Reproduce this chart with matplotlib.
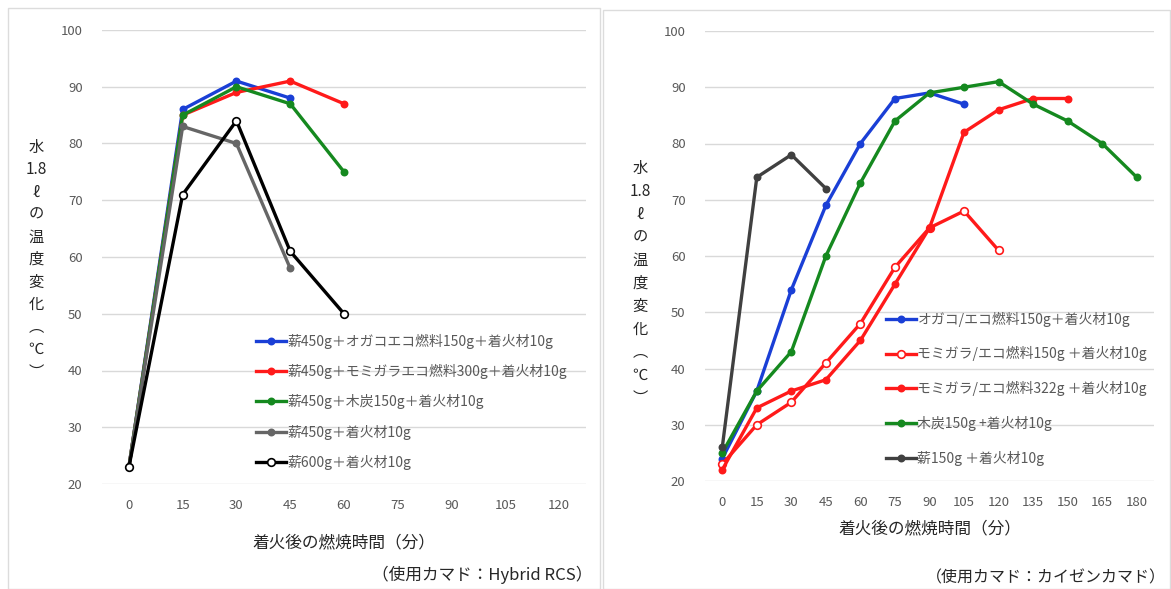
import matplotlib
matplotlib.use("Agg")
import matplotlib.pyplot as plt
from matplotlib.patches import Rectangle

plt.rcParams['font.family'] = ['Noto Sans CJK JP', 'DejaVu Sans']

# left chart (Hybrid RCS)
minutes_left = [0, 15, 30, 45, 60, 75, 90, 105, 120]
left_labels = [
    "薪450g＋オガコエコ燃料150g＋着火材10g",
    "薪450g＋モミガラエコ燃料300g＋着火材10g",
    "薪450g＋木炭150g＋着火材10g",
    "薪450g＋着火材10g",
    "薪600g＋着火材10g",
]
left_ogako = [23, 86, 91, 88]
left_momigara = [23, 85, 89, 91, 87]
left_charcoal = [23, 85, 90, 87, 75]
left_wood450 = [23, 83, 80, 58]
left_wood600 = [23, 71, 84, 61, 50]

# right chart (カイゼンカマド)
minutes_right = [0, 15, 30, 45, 60, 75, 90, 105, 120, 135, 150, 165, 180]
right_labels = [
    "オガコ/エコ燃料150g＋着火材10g",
    "モミガラ/エコ燃料150g ＋着火材10g",
    "モミガラ/エコ燃料322g ＋着火材10g",
    "木炭150g +着火材10g",
    "薪150g ＋着火材10g",
]
right_ogako = [24, 36, 54, 69, 80, 88, 89, 87]
right_momigara150 = [23, 30, 34, 41, 48, 58, 65, 68, 61]
right_momigara322 = [22, 33, 36, 38, 45, 55, 65, 82, 86, 88, 88]
right_charcoal = [25, 36, 43, 60, 73, 84, 89, 90, 91, 87, 84, 80, 74]
right_wood150 = [26, 74, 78, 72]

BLUE = "#1a3fd6"
RED = "#ff1a1a"
GREEN = "#15891f"
GRAY = "#666666"
BLACK = "#000000"
DARK = "#404040"
TEXT = "#595959"
GRID = "#d9d9d9"

fig = plt.figure(figsize=(11.71, 5.89), dpi=100)

# panel frames
fig.patches.append(Rectangle((8 / 1171, 0), 592 / 1171, 581 / 589, transform=fig.transFigure,
                             fill=False, edgecolor="#dcdcdc", linewidth=1))
fig.patches.append(Rectangle((603 / 1171, 0), 567 / 1171, 579 / 589, transform=fig.transFigure,
                             fill=False, edgecolor="#dcdcdc", linewidth=1))


def style_axes(ax, cats):
    ax.set_ylim(20, 100)
    ax.set_yticks(range(20, 101, 10))
    ax.set_xlim(-0.5, len(cats) - 0.5)
    ax.set_xticks(range(len(cats)))
    ax.set_xticklabels([str(c) for c in cats])
    for s in ax.spines.values():
        s.set_visible(False)
    ax.grid(axis="y", color=GRID, linewidth=1)
    ax.set_axisbelow(True)
    ax.tick_params(length=0, labelsize=9.5, labelcolor=TEXT)
    ax.tick_params(axis="y", pad=14)
    ax.tick_params(axis="x", pad=11)
    ax.set_facecolor("none")


def draw(ax, values, color, label, hollow=False):
    ax.plot(range(len(values)), values, color=color, linewidth=2.4, marker="o",
            markersize=5.5 if hollow else 4.5,
            markerfacecolor="white" if hollow else color,
            markeredgecolor=color, markeredgewidth=1.2, label=label)


def vertical_label(x_px, y0_px, step_px):
    chars = ["水", "1.8", "ℓ", "の", "温", "度", "変", "化", "︵", "℃", "︶"]
    for i, c in enumerate(chars):
        fig.text(x_px / 1171, 1 - (y0_px + i * step_px) / 589, c, ha="center", va="center",
                 fontsize=11, color="#262626")


# left chart
ax1 = fig.add_axes([102 / 1171, 1 - 484 / 589, 484 / 1171, 454 / 589])
style_axes(ax1, minutes_left)
draw(ax1, left_ogako, BLUE, left_labels[0])
draw(ax1, left_momigara, RED, left_labels[1])
draw(ax1, left_charcoal, GREEN, left_labels[2])
draw(ax1, left_wood450, GRAY, left_labels[3])
draw(ax1, left_wood600, BLACK, left_labels[4], hollow=True)
ax1.legend(loc="upper left", bbox_to_anchor=(243 / 1171, 1 - 321 / 589),
           bbox_transform=fig.transFigure, frameon=False, fontsize=10,
           labelcolor=TEXT, handlelength=2.2, handletextpad=0.1, labelspacing=1.1)
ax1.set_xlabel("着火後の燃焼時間（分）", fontsize=12, color="#262626", labelpad=16)
vertical_label(36, 147, 22.5)
fig.text(592 / 1171, 1 - 575 / 589, "（使用カマド：Hybrid RCS）", ha="right", va="center",
         fontsize=12, color="#262626")

# right chart
ax2 = fig.add_axes([705 / 1171, 1 - 481 / 589, 449 / 1171, 450 / 589])
style_axes(ax2, minutes_right)
draw(ax2, right_ogako, BLUE, right_labels[0])
draw(ax2, right_momigara150, RED, right_labels[1], hollow=True)
draw(ax2, right_momigara322, RED, right_labels[2])
draw(ax2, right_charcoal, GREEN, right_labels[3])
draw(ax2, right_wood150, DARK, right_labels[4])
ax2.legend(loc="upper left", bbox_to_anchor=(873 / 1171, 1 - 299 / 589),
           bbox_transform=fig.transFigure, frameon=False, fontsize=10,
           labelcolor=TEXT, handlelength=2.2, handletextpad=0.1, labelspacing=1.42)
ax2.set_xlabel("着火後の燃焼時間（分）", fontsize=12, color="#262626", labelpad=8)
vertical_label(640, 168, 23)
fig.text(1166 / 1171, 1 - 578 / 589, "（使用カマド：カイゼンカマド）", ha="right", va="center",
         fontsize=11.5, color="#262626")

fig.savefig("out.png", dpi=100, facecolor="white")
